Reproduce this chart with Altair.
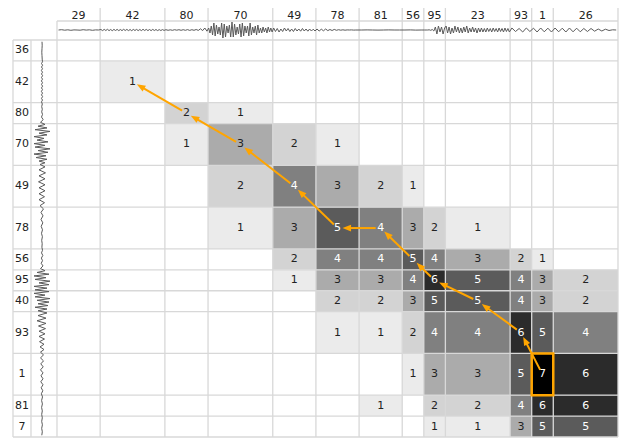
import math
import altair as alt
import pandas as pd

# ---------------- data ----------------
col_labels = ["29", "42", "80", "70", "49", "78", "81", "56", "95", "23", "93", "1", "26"]
col_units = [2, 3, 2, 3, 2, 2, 2, 1, 1, 3, 1, 1, 3]
row_labels = ["36", "42", "80", "70", "49", "78", "56", "95", "40", "93", "1", "81", "7"]
row_units = [1, 2, 1, 2, 2, 2, 1, 1, 1, 2, 2, 1, 1]

matrix = [
    [0, 0, 0, 0, 0, 0, 0, 0, 0, 0, 0, 0, 0],
    [0, 1, 0, 0, 0, 0, 0, 0, 0, 0, 0, 0, 0],
    [0, 0, 2, 1, 0, 0, 0, 0, 0, 0, 0, 0, 0],
    [0, 0, 1, 3, 2, 1, 0, 0, 0, 0, 0, 0, 0],
    [0, 0, 0, 2, 4, 3, 2, 1, 0, 0, 0, 0, 0],
    [0, 0, 0, 1, 3, 5, 4, 3, 2, 1, 0, 0, 0],
    [0, 0, 0, 0, 2, 4, 4, 5, 4, 3, 2, 1, 0],
    [0, 0, 0, 0, 1, 3, 3, 4, 6, 5, 4, 3, 2],
    [0, 0, 0, 0, 0, 2, 2, 3, 5, 5, 4, 3, 2],
    [0, 0, 0, 0, 0, 1, 1, 2, 4, 4, 6, 5, 4],
    [0, 0, 0, 0, 0, 0, 0, 1, 3, 3, 5, 7, 6],
    [0, 0, 0, 0, 0, 0, 1, 0, 2, 2, 4, 6, 6],
    [0, 0, 0, 0, 0, 0, 0, 0, 1, 1, 3, 5, 5],
]

# traceback path (row index, column index), from the end cell back to the start
path_rows = [10, 9, 8, 7, 6, 5, 5, 4, 3, 2, 1]
path_cols = [11, 10, 9, 8, 7, 6, 5, 4, 3, 2, 1]

# waveform samples (pixel amplitude), one list per column segment (top signal)
top_wave = [
    [0, 0.3, -0.2, 0.2, -0.3, 0.1, 0, -0.2, 0.3, -0.1, 0.2, -0.3, 0.1, 0],
    [0.5, -0.6, 0.6, -0.5, 0.7, -0.6, 0.5, -0.7, 0.6, -0.5, 0.6, -0.6, 0.5, -0.6, 0.7, -0.5,
     0.6, -0.6, 0.5, -0.7, 0.6, -0.5, 0.6, -0.6, 0.5, -0.6, 0.7, -0.5, 0.6, -0.6, 0.5, -0.6,
     0.6, -0.5, 0.5, -0.6, 0.4, -0.5, 0.4, -0.4],
    [0.3, -0.3, 0.2, -0.3, 0.3, -0.2, 0.3, -0.3, 0.3, -0.3, 0.4, -0.4, 0.3, -0.3, 0.5, -0.4,
     1.2, -0.6, 2, -1.2],
    [2, -3, 4, -5, 7, -6, 5, -4, 3, -5, 7, -8, 6, -7, 4, -3, 5, -7, 8, -7, 6, -5, 3, -4, 6,
     -7, 7, -6, 4, -3, 4, -6, 7, -5, 3, -3, 4, -5, 5, -3, 2, -3, 3, -2, 2, -3, 3, -2, 2, -2],
    [2, -1.5, 1.5, -2, 1, -1.5, 2, -1, 1.5, -1.5, 1, -1.5, 1.5, -1, 1, -1.2, 1.5, -1, 1, -1.2,
     1, -1, 0.8, -1],
    [1, -1, 0.8, -0.8, 1, -0.6, 0.5, -0.5, 0.6, -0.3, 0.3, -0.2, 0.2, -0.2, 0.1, 0, 0.1, -0.1, 0, 0],
    [0, 0.1, 0, -0.1, 0, 0.1, 0, 0],
    [0, 0.1, -0.1, 0],
    [0, 0, 0, 0.2, -0.3, 0.5, -1, 3, -4, 4, -2, 3, -4, 2],
    [4, -3, 3, -4, 2, -3, 4, -2, 3, -3, 2, -3, 3, -2, 4, -3, 2, -2, 3, -2, 2, -3, 2, -2, 2, -2,
     1.5, -2, 2, -1.5, 1.5, -2, 2, -1.5, 1.5, -2, 2, -1.5, 1.5, -2, 2, -1.5, 1.5, -2],
    [2, -1.5, 1.5, -2, 2, -1.5],
    [1.8, -2, 2, -1.8, 1.8, -2],
    [2, -1.8, 1.8, -2, 2, -1.8, 1.8, -1.8, 1.5, -1.5, 1.5, -1.2, 1, -1, 0.8, -0.5, 0.2, 0],
]

# left signal, one list per row segment
left_wave = [
    [0, 0.2, 0, -0.2, 0, 0.2],
    [0.5, -0.5, 0.6, -0.5, 0.5, -0.6, 0.5, -0.5, 0.6, -0.5, 0.5, -0.6, 0.5, -0.5, 0.6, -0.5,
     0.5, -0.6, 0.5, -0.5, 0.6, -0.5, 0.5, -0.5],
    [0.3, -0.3, 0.3, -0.3, 0.5, -0.5, 1.2, -1.5],
    [3, -4, 5, -7, 8, -3, 5, -8, 2, -5, 6, -8, 3, -7, 8, -4, 6, -8, 4, -6, 5, -3, 3, -2],
    [3, -3, 3.5, -3, 3, -3.5, 3, -3, 3, -3, 2.5, -3, 2.5, -2],
    [1.5, -1, 1, -1, 0.8, -0.8, 0.5, -0.5, 0.4, -0.3, 0.2, -0.1],
    [0.5, -0.5, 0.8, -0.6, 0.5, -0.8, 1, -1.5],
    [3, -5, 7, -8, 4, -7, 8, -3, 7, -8, 5, -7],
    [7, -8, 3, -7, 8, -5, 7, -4, 6, -7, 5, -4],
    [5, -4, 4, -5, 4, -3.5, 3.5, -3, 3, -3, 2.5, -2.5, 2, -2, 2, -1.5],
    [1.5, -1.5, 1.5, -1.2, 1.2, -1.5, 1, -1, 1, -1.2, 1, -0.8, 0.8, -0.6],
    [0.5, -0.4, 0.4, -0.4, 0.3, -0.3],
    [0.3, -0.3, 0.4, -0.3, 0.3, -0.2],
]

grey_levels = ["#ebebeb", "#d3d3d3", "#ababab", "#808080", "#5b5b5b", "#2b2b2b", "#000000"]

# ---------------- layout ----------------
ORANGE = "#ffa500"
GRID = "#d8d8d8"
WAVE = "#5a5a5a"
FONT = "DejaVu Sans"
X0, X1 = 57, 618          # page px of matrix columns
Y0, Y1 = 40, 437          # page px of matrix rows
NCU, NRU = sum(col_units), sum(row_units)
ux = (X1 - X0) / NCU
uy = (Y1 - Y0) / NRU
W, H = 611, 433
xdom = [(8 - X0) / ux, (8 + W - X0) / ux]
ydom = [(8 - Y0) / uy, (8 + H - Y0) / uy]
xs = alt.Scale(domain=xdom, nice=False, zero=False)
ys = alt.Scale(domain=ydom, nice=False, zero=False, reverse=True)

cx = [0]
for u in col_units:
    cx.append(cx[-1] + u)
ry = [0]
for u in row_units:
    ry.append(ry[-1] + u)

hdr_text_y = (15.5 - Y0) / uy
hdr_line_y = (21 - Y0) / uy
top_wave_y = (30 - Y0) / uy
lab_left_x = (13 - X0) / ux
lab_right_x = (31 - X0) / ux
lab_center_x = (22 - X0) / ux
left_wave_x = (42 - X0) / ux

# cells
cells = []
for r in range(len(row_labels)):
    for c in range(len(col_labels)):
        v = matrix[r][c]
        if v > 0:
            cells.append(dict(x=cx[c], x2=cx[c + 1], y=ry[r], y2=ry[r + 1],
                              xm=(cx[c] + cx[c + 1]) / 2, ym=(ry[r] + ry[r + 1]) / 2, v=v))
cells_df = pd.DataFrame(cells)

# grid lines
lines = []
for e in ry:
    lines.append(dict(x=lab_left_x, x2=NCU, y=e, y2=e))
lines.append(dict(x=0, x2=NCU, y=hdr_line_y, y2=hdr_line_y))
for i, e in enumerate(cx):
    top = hdr_line_y if i == 0 else ydom[0]
    lines.append(dict(x=e, x2=e, y=top, y2=NRU))
lines.append(dict(x=lab_left_x, x2=lab_left_x, y=0, y2=NRU))
lines.append(dict(x=lab_right_x, x2=lab_right_x, y=0, y2=NRU))
lines_df = pd.DataFrame(lines)

hdr_df = pd.DataFrame(dict(x=[(cx[i] + cx[i + 1]) / 2 for i in range(len(col_labels))],
                           y=[hdr_text_y] * len(col_labels), t=col_labels))
rowlab_df = pd.DataFrame(dict(x=[lab_center_x] * len(row_labels),
                              y=[(ry[i] + ry[i + 1]) / 2 for i in range(len(row_labels))],
                              t=row_labels))

# waveform samples spread evenly over their segment
top_rows = []
for seg, vals in enumerate(top_wave):
    a, b = cx[seg], cx[seg + 1]
    n = len(vals)
    for k, v in enumerate(vals):
        top_rows.append(dict(x=a + (k + 0.5) * (b - a) / n, y=top_wave_y - v / uy))
top_df = pd.DataFrame(top_rows)
top_df["i"] = range(len(top_df))

left_rows = []
for seg, vals in enumerate(left_wave):
    a, b = ry[seg], ry[seg + 1]
    n = len(vals)
    for k, v in enumerate(vals):
        left_rows.append(dict(y=a + (k + 0.5) * (b - a) / n, x=left_wave_x + v / ux))
left_df = pd.DataFrame(left_rows)
left_df["i"] = range(len(left_df))

# arrows (computed in pixel space, converted back to units)
def to_px(xu, yu):
    return X0 + xu * ux, Y0 + yu * uy

def to_u(px, py):
    return (px - X0) / ux, (py - Y0) / uy

arrows, heads = [], []
for k in range(len(path_rows) - 1):
    r0, c0 = path_rows[k], path_cols[k]
    r1, c1 = path_rows[k + 1], path_cols[k + 1]
    sx, sy = to_px((cx[c0] + cx[c0 + 1]) / 2, (ry[r0] + ry[r0 + 1]) / 2)
    ex, ey = to_px((cx[c1] + cx[c1 + 1]) / 2, (ry[r1] + ry[r1 + 1]) / 2)
    dx, dy = ex - sx, ey - sy
    L = math.hypot(dx, dy)
    dx, dy = dx / L, dy / L
    s_px = (sx + 5 * dx, sy + 5 * dy)
    tip = (ex - 5 * dx, ey - 5 * dy)
    hc = (tip[0] - 4.5 * dx, tip[1] - 4.5 * dy)
    a = to_u(*s_px)
    b = to_u(*hc)
    arrows.append(dict(x=a[0], y=a[1], x2=b[0], y2=b[1]))
    ang = math.degrees(math.atan2(dx, -dy)) % 360
    heads.append(dict(x=b[0], y=b[1], ang=ang))
arrows_df = pd.DataFrame(arrows)
heads_df = pd.DataFrame(heads)

end_r, end_c = path_rows[0], path_cols[0]
hl_df = pd.DataFrame([dict(x=cx[end_c], x2=cx[end_c + 1], y=ry[end_r], y2=ry[end_r + 1])])

X = lambda f: alt.X(f, scale=xs, axis=None)
Y = lambda f: alt.Y(f, scale=ys, axis=None)

cell_layer = alt.Chart(cells_df).mark_rect(strokeWidth=0).encode(
    x=X("x:Q"), x2="x2:Q", y=Y("y:Q"), y2="y2:Q",
    color=alt.Color("v:O", scale=alt.Scale(domain=[1, 2, 3, 4, 5, 6, 7], range=grey_levels), legend=None),
)
grid_layer = alt.Chart(lines_df).mark_rule(color=GRID, strokeWidth=1.3).encode(
    x=X("x:Q"), x2="x2:Q", y=Y("y:Q"), y2="y2:Q")
cell_text = alt.Chart(cells_df).mark_text(font=FONT, fontSize=11, baseline="middle", align="center").encode(
    x=X("xm:Q"), y=Y("ym:Q"), text="v:Q",
    color=alt.condition(alt.datum.v >= 4, alt.value("#ffffff"), alt.value("#222222")),
)
hdr_layer = alt.Chart(hdr_df).mark_text(font=FONT, fontSize=11, baseline="middle", align="center", color="#222222").encode(
    x=X("x:Q"), y=Y("y:Q"), text="t:N")
rowlab_layer = alt.Chart(rowlab_df).mark_text(font=FONT, fontSize=11, baseline="middle", align="center", color="#222222").encode(
    x=X("x:Q"), y=Y("y:Q"), text="t:N")
top_layer = alt.Chart(top_df).mark_line(color=WAVE, strokeWidth=1).encode(
    x=X("x:Q"), y=Y("y:Q"), order="i:Q")
left_layer = alt.Chart(left_df).mark_line(color=WAVE, strokeWidth=1).encode(
    x=X("x:Q"), y=Y("y:Q"), order="i:Q")
hl_layer = alt.Chart(hl_df).mark_rect(fill=None, fillOpacity=0, stroke=ORANGE, strokeWidth=2.5).encode(
    x=X("x:Q"), x2="x2:Q", y=Y("y:Q"), y2="y2:Q")
arrow_layer = alt.Chart(arrows_df).mark_rule(color=ORANGE, strokeWidth=2).encode(
    x=X("x:Q"), x2="x2:Q", y=Y("y:Q"), y2="y2:Q")
head_layer = alt.Chart(heads_df).mark_point(
    shape="M0,-1L-0.75,0.9L0.75,0.9Z", filled=True, color=ORANGE, opacity=1, size=81, strokeWidth=0
).encode(x=X("x:Q"), y=Y("y:Q"), angle=alt.Angle("ang:Q", scale=None))

chart = alt.layer(
    cell_layer, grid_layer, cell_text, hdr_layer, rowlab_layer, top_layer, left_layer,
    hl_layer, arrow_layer, head_layer,
).properties(
    width=W, height=H, padding=0, autosize=alt.AutoSizeParams(type="none"), background="white"
).configure_view(stroke=None)

chart.save("out.html", embed_options={"renderer": "svg", "actions": False})
